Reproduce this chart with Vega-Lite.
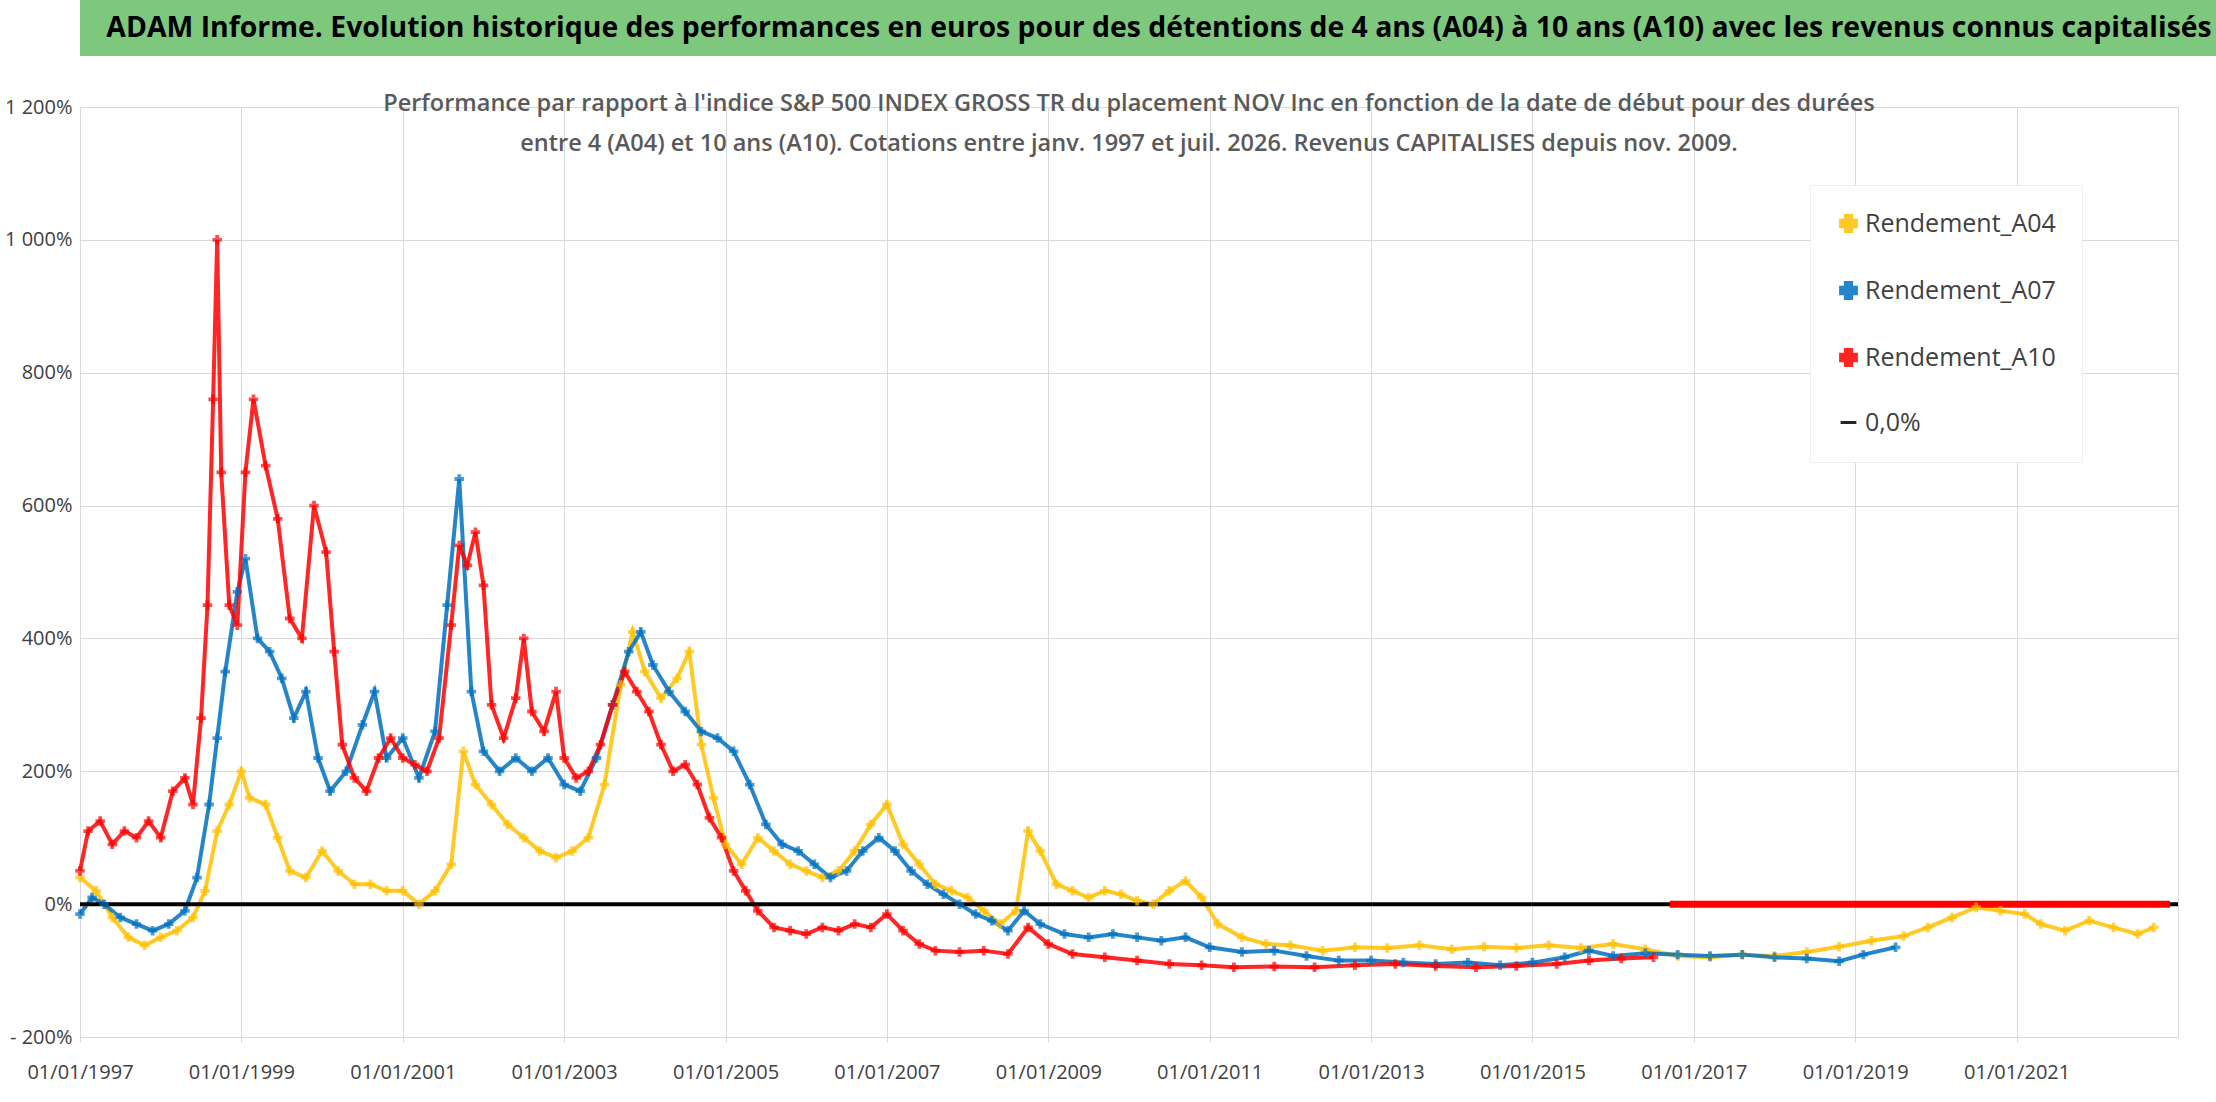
{
  "$schema": "https://vega.github.io/schema/vega-lite/v6.json",
  "padding": {"left": 4, "top": 0, "right": 4, "bottom": 2},
  "background": "white",
  "spacing": 35,
  "align": "none",
  "config": {"font": "Liberation Sans", "concat": {"spacing": 35}},
  "datasets": {
    "pts": [
      {"t":1997.0,"s":"Rendement_A04","v":40},{"t":1997.2,"s":"Rendement_A04","v":20},{"t":1997.4,"s":"Rendement_A04","v":-20},{"t":1997.6,"s":"Rendement_A04","v":-50},{"t":1997.8,"s":"Rendement_A04","v":-62},{"t":1998.0,"s":"Rendement_A04","v":-50},{"t":1998.2,"s":"Rendement_A04","v":-40},{"t":1998.4,"s":"Rendement_A04","v":-20},{"t":1998.55,"s":"Rendement_A04","v":20},{"t":1998.7,"s":"Rendement_A04","v":110},{"t":1998.85,"s":"Rendement_A04","v":150},{"t":1999.0,"s":"Rendement_A04","v":200},{"t":1999.1,"s":"Rendement_A04","v":160},{"t":1999.3,"s":"Rendement_A04","v":150},{"t":1999.45,"s":"Rendement_A04","v":100},{"t":1999.6,"s":"Rendement_A04","v":50},{"t":1999.8,"s":"Rendement_A04","v":40},{"t":2000.0,"s":"Rendement_A04","v":80},{"t":2000.2,"s":"Rendement_A04","v":50},{"t":2000.4,"s":"Rendement_A04","v":30},{"t":2000.6,"s":"Rendement_A04","v":30},{"t":2000.8,"s":"Rendement_A04","v":20},{"t":2001.0,"s":"Rendement_A04","v":20},{"t":2001.2,"s":"Rendement_A04","v":0},{"t":2001.4,"s":"Rendement_A04","v":20},{"t":2001.6,"s":"Rendement_A04","v":60},{"t":2001.75,"s":"Rendement_A04","v":230},{"t":2001.9,"s":"Rendement_A04","v":180},{"t":2002.1,"s":"Rendement_A04","v":150},{"t":2002.3,"s":"Rendement_A04","v":120},{"t":2002.5,"s":"Rendement_A04","v":100},{"t":2002.7,"s":"Rendement_A04","v":80},{"t":2002.9,"s":"Rendement_A04","v":70},{"t":2003.1,"s":"Rendement_A04","v":80},{"t":2003.3,"s":"Rendement_A04","v":100},{"t":2003.5,"s":"Rendement_A04","v":180},{"t":2003.7,"s":"Rendement_A04","v":330},{"t":2003.85,"s":"Rendement_A04","v":410},{"t":2004.0,"s":"Rendement_A04","v":350},{"t":2004.2,"s":"Rendement_A04","v":310},{"t":2004.4,"s":"Rendement_A04","v":340},{"t":2004.55,"s":"Rendement_A04","v":380},{"t":2004.7,"s":"Rendement_A04","v":240},{"t":2004.85,"s":"Rendement_A04","v":160},{"t":2005.0,"s":"Rendement_A04","v":90},{"t":2005.2,"s":"Rendement_A04","v":60},{"t":2005.4,"s":"Rendement_A04","v":100},{"t":2005.6,"s":"Rendement_A04","v":80},{"t":2005.8,"s":"Rendement_A04","v":60},{"t":2006.0,"s":"Rendement_A04","v":50},{"t":2006.2,"s":"Rendement_A04","v":40},{"t":2006.4,"s":"Rendement_A04","v":50},{"t":2006.6,"s":"Rendement_A04","v":80},{"t":2006.8,"s":"Rendement_A04","v":120},{"t":2007.0,"s":"Rendement_A04","v":150},{"t":2007.2,"s":"Rendement_A04","v":90},{"t":2007.4,"s":"Rendement_A04","v":60},{"t":2007.6,"s":"Rendement_A04","v":30},{"t":2007.8,"s":"Rendement_A04","v":20},{"t":2008.0,"s":"Rendement_A04","v":10},{"t":2008.2,"s":"Rendement_A04","v":-10},{"t":2008.4,"s":"Rendement_A04","v":-30},{"t":2008.6,"s":"Rendement_A04","v":-10},{"t":2008.75,"s":"Rendement_A04","v":110},{"t":2008.9,"s":"Rendement_A04","v":80},{"t":2009.1,"s":"Rendement_A04","v":30},{"t":2009.3,"s":"Rendement_A04","v":20},{"t":2009.5,"s":"Rendement_A04","v":10},{"t":2009.7,"s":"Rendement_A04","v":20},{"t":2009.9,"s":"Rendement_A04","v":15},{"t":2010.1,"s":"Rendement_A04","v":5},{"t":2010.3,"s":"Rendement_A04","v":0},{"t":2010.5,"s":"Rendement_A04","v":20},{"t":2010.7,"s":"Rendement_A04","v":35},{"t":2010.9,"s":"Rendement_A04","v":10},{"t":2011.1,"s":"Rendement_A04","v":-30},{"t":2011.4,"s":"Rendement_A04","v":-50},{"t":2011.7,"s":"Rendement_A04","v":-60},{"t":2012.0,"s":"Rendement_A04","v":-62},{"t":2012.4,"s":"Rendement_A04","v":-70},{"t":2012.8,"s":"Rendement_A04","v":-65},{"t":2013.2,"s":"Rendement_A04","v":-66},{"t":2013.6,"s":"Rendement_A04","v":-62},{"t":2014.0,"s":"Rendement_A04","v":-68},{"t":2014.4,"s":"Rendement_A04","v":-64},{"t":2014.8,"s":"Rendement_A04","v":-66},{"t":2015.2,"s":"Rendement_A04","v":-62},{"t":2015.6,"s":"Rendement_A04","v":-66},{"t":2016.0,"s":"Rendement_A04","v":-60},{"t":2016.4,"s":"Rendement_A04","v":-68},{"t":2016.8,"s":"Rendement_A04","v":-78},{"t":2017.2,"s":"Rendement_A04","v":-80},{"t":2017.6,"s":"Rendement_A04","v":-76},{"t":2018.0,"s":"Rendement_A04","v":-78},{"t":2018.4,"s":"Rendement_A04","v":-72},{"t":2018.8,"s":"Rendement_A04","v":-64},{"t":2019.2,"s":"Rendement_A04","v":-55},{"t":2019.6,"s":"Rendement_A04","v":-48},{"t":2019.9,"s":"Rendement_A04","v":-35},{"t":2020.2,"s":"Rendement_A04","v":-20},{"t":2020.5,"s":"Rendement_A04","v":-5},{"t":2020.8,"s":"Rendement_A04","v":-10},{"t":2021.1,"s":"Rendement_A04","v":-15},{"t":2021.3,"s":"Rendement_A04","v":-30},{"t":2021.6,"s":"Rendement_A04","v":-40},{"t":2021.9,"s":"Rendement_A04","v":-25},{"t":2022.2,"s":"Rendement_A04","v":-35},{"t":2022.5,"s":"Rendement_A04","v":-45},{"t":2022.7,"s":"Rendement_A04","v":-35},

      {"t":1997.0,"s":"Rendement_A07","v":-15},{"t":1997.15,"s":"Rendement_A07","v":10},{"t":1997.3,"s":"Rendement_A07","v":0},{"t":1997.5,"s":"Rendement_A07","v":-20},{"t":1997.7,"s":"Rendement_A07","v":-30},{"t":1997.9,"s":"Rendement_A07","v":-40},{"t":1998.1,"s":"Rendement_A07","v":-30},{"t":1998.3,"s":"Rendement_A07","v":-10},{"t":1998.45,"s":"Rendement_A07","v":40},{"t":1998.6,"s":"Rendement_A07","v":150},{"t":1998.7,"s":"Rendement_A07","v":250},{"t":1998.8,"s":"Rendement_A07","v":350},{"t":1998.95,"s":"Rendement_A07","v":470},{"t":1999.05,"s":"Rendement_A07","v":520},{"t":1999.2,"s":"Rendement_A07","v":400},{"t":1999.35,"s":"Rendement_A07","v":380},{"t":1999.5,"s":"Rendement_A07","v":340},{"t":1999.65,"s":"Rendement_A07","v":280},{"t":1999.8,"s":"Rendement_A07","v":320},{"t":1999.95,"s":"Rendement_A07","v":220},{"t":2000.1,"s":"Rendement_A07","v":170},{"t":2000.3,"s":"Rendement_A07","v":200},{"t":2000.5,"s":"Rendement_A07","v":270},{"t":2000.65,"s":"Rendement_A07","v":320},{"t":2000.8,"s":"Rendement_A07","v":220},{"t":2001.0,"s":"Rendement_A07","v":250},{"t":2001.2,"s":"Rendement_A07","v":190},{"t":2001.4,"s":"Rendement_A07","v":260},{"t":2001.55,"s":"Rendement_A07","v":450},{"t":2001.7,"s":"Rendement_A07","v":640},{"t":2001.85,"s":"Rendement_A07","v":320},{"t":2002.0,"s":"Rendement_A07","v":230},{"t":2002.2,"s":"Rendement_A07","v":200},{"t":2002.4,"s":"Rendement_A07","v":220},{"t":2002.6,"s":"Rendement_A07","v":200},{"t":2002.8,"s":"Rendement_A07","v":220},{"t":2003.0,"s":"Rendement_A07","v":180},{"t":2003.2,"s":"Rendement_A07","v":170},{"t":2003.4,"s":"Rendement_A07","v":220},{"t":2003.6,"s":"Rendement_A07","v":300},{"t":2003.8,"s":"Rendement_A07","v":380},{"t":2003.95,"s":"Rendement_A07","v":410},{"t":2004.1,"s":"Rendement_A07","v":360},{"t":2004.3,"s":"Rendement_A07","v":320},{"t":2004.5,"s":"Rendement_A07","v":290},{"t":2004.7,"s":"Rendement_A07","v":260},{"t":2004.9,"s":"Rendement_A07","v":250},{"t":2005.1,"s":"Rendement_A07","v":230},{"t":2005.3,"s":"Rendement_A07","v":180},{"t":2005.5,"s":"Rendement_A07","v":120},{"t":2005.7,"s":"Rendement_A07","v":90},{"t":2005.9,"s":"Rendement_A07","v":80},{"t":2006.1,"s":"Rendement_A07","v":60},{"t":2006.3,"s":"Rendement_A07","v":40},{"t":2006.5,"s":"Rendement_A07","v":50},{"t":2006.7,"s":"Rendement_A07","v":80},{"t":2006.9,"s":"Rendement_A07","v":100},{"t":2007.1,"s":"Rendement_A07","v":80},{"t":2007.3,"s":"Rendement_A07","v":50},{"t":2007.5,"s":"Rendement_A07","v":30},{"t":2007.7,"s":"Rendement_A07","v":15},{"t":2007.9,"s":"Rendement_A07","v":0},{"t":2008.1,"s":"Rendement_A07","v":-15},{"t":2008.3,"s":"Rendement_A07","v":-25},{"t":2008.5,"s":"Rendement_A07","v":-40},{"t":2008.7,"s":"Rendement_A07","v":-10},{"t":2008.9,"s":"Rendement_A07","v":-30},{"t":2009.2,"s":"Rendement_A07","v":-45},{"t":2009.5,"s":"Rendement_A07","v":-50},{"t":2009.8,"s":"Rendement_A07","v":-45},{"t":2010.1,"s":"Rendement_A07","v":-50},{"t":2010.4,"s":"Rendement_A07","v":-55},{"t":2010.7,"s":"Rendement_A07","v":-50},{"t":2011.0,"s":"Rendement_A07","v":-65},{"t":2011.4,"s":"Rendement_A07","v":-72},{"t":2011.8,"s":"Rendement_A07","v":-70},{"t":2012.2,"s":"Rendement_A07","v":-78},{"t":2012.6,"s":"Rendement_A07","v":-85},{"t":2013.0,"s":"Rendement_A07","v":-85},{"t":2013.4,"s":"Rendement_A07","v":-88},{"t":2013.8,"s":"Rendement_A07","v":-90},{"t":2014.2,"s":"Rendement_A07","v":-88},{"t":2014.6,"s":"Rendement_A07","v":-92},{"t":2015.0,"s":"Rendement_A07","v":-88},{"t":2015.4,"s":"Rendement_A07","v":-80},{"t":2015.7,"s":"Rendement_A07","v":-70},{"t":2016.0,"s":"Rendement_A07","v":-78},{"t":2016.4,"s":"Rendement_A07","v":-74},{"t":2016.8,"s":"Rendement_A07","v":-76},{"t":2017.2,"s":"Rendement_A07","v":-78},{"t":2017.6,"s":"Rendement_A07","v":-76},{"t":2018.0,"s":"Rendement_A07","v":-80},{"t":2018.4,"s":"Rendement_A07","v":-82},{"t":2018.8,"s":"Rendement_A07","v":-86},{"t":2019.1,"s":"Rendement_A07","v":-76},{"t":2019.5,"s":"Rendement_A07","v":-65},

      {"t":1997.0,"s":"Rendement_A10","v":50},{"t":1997.1,"s":"Rendement_A10","v":110},{"t":1997.25,"s":"Rendement_A10","v":125},{"t":1997.4,"s":"Rendement_A10","v":90},{"t":1997.55,"s":"Rendement_A10","v":110},{"t":1997.7,"s":"Rendement_A10","v":100},{"t":1997.85,"s":"Rendement_A10","v":125},{"t":1998.0,"s":"Rendement_A10","v":100},{"t":1998.15,"s":"Rendement_A10","v":170},{"t":1998.3,"s":"Rendement_A10","v":190},{"t":1998.4,"s":"Rendement_A10","v":150},{"t":1998.5,"s":"Rendement_A10","v":280},{"t":1998.58,"s":"Rendement_A10","v":450},{"t":1998.65,"s":"Rendement_A10","v":760},{"t":1998.7,"s":"Rendement_A10","v":1000},{"t":1998.75,"s":"Rendement_A10","v":650},{"t":1998.85,"s":"Rendement_A10","v":450},{"t":1998.95,"s":"Rendement_A10","v":420},{"t":1999.05,"s":"Rendement_A10","v":650},{"t":1999.15,"s":"Rendement_A10","v":760},{"t":1999.3,"s":"Rendement_A10","v":660},{"t":1999.45,"s":"Rendement_A10","v":580},{"t":1999.6,"s":"Rendement_A10","v":430},{"t":1999.75,"s":"Rendement_A10","v":400},{"t":1999.9,"s":"Rendement_A10","v":600},{"t":2000.05,"s":"Rendement_A10","v":530},{"t":2000.15,"s":"Rendement_A10","v":380},{"t":2000.25,"s":"Rendement_A10","v":240},{"t":2000.4,"s":"Rendement_A10","v":190},{"t":2000.55,"s":"Rendement_A10","v":170},{"t":2000.7,"s":"Rendement_A10","v":220},{"t":2000.85,"s":"Rendement_A10","v":250},{"t":2001.0,"s":"Rendement_A10","v":220},{"t":2001.15,"s":"Rendement_A10","v":210},{"t":2001.3,"s":"Rendement_A10","v":200},{"t":2001.45,"s":"Rendement_A10","v":250},{"t":2001.6,"s":"Rendement_A10","v":420},{"t":2001.7,"s":"Rendement_A10","v":540},{"t":2001.8,"s":"Rendement_A10","v":510},{"t":2001.9,"s":"Rendement_A10","v":560},{"t":2002.0,"s":"Rendement_A10","v":480},{"t":2002.1,"s":"Rendement_A10","v":300},{"t":2002.25,"s":"Rendement_A10","v":250},{"t":2002.4,"s":"Rendement_A10","v":310},{"t":2002.5,"s":"Rendement_A10","v":400},{"t":2002.6,"s":"Rendement_A10","v":290},{"t":2002.75,"s":"Rendement_A10","v":260},{"t":2002.9,"s":"Rendement_A10","v":320},{"t":2003.0,"s":"Rendement_A10","v":220},{"t":2003.15,"s":"Rendement_A10","v":190},{"t":2003.3,"s":"Rendement_A10","v":200},{"t":2003.45,"s":"Rendement_A10","v":240},{"t":2003.6,"s":"Rendement_A10","v":300},{"t":2003.75,"s":"Rendement_A10","v":350},{"t":2003.9,"s":"Rendement_A10","v":320},{"t":2004.05,"s":"Rendement_A10","v":290},{"t":2004.2,"s":"Rendement_A10","v":240},{"t":2004.35,"s":"Rendement_A10","v":200},{"t":2004.5,"s":"Rendement_A10","v":210},{"t":2004.65,"s":"Rendement_A10","v":180},{"t":2004.8,"s":"Rendement_A10","v":130},{"t":2004.95,"s":"Rendement_A10","v":100},{"t":2005.1,"s":"Rendement_A10","v":50},{"t":2005.25,"s":"Rendement_A10","v":20},{"t":2005.4,"s":"Rendement_A10","v":-10},{"t":2005.6,"s":"Rendement_A10","v":-35},{"t":2005.8,"s":"Rendement_A10","v":-40},{"t":2006.0,"s":"Rendement_A10","v":-45},{"t":2006.2,"s":"Rendement_A10","v":-35},{"t":2006.4,"s":"Rendement_A10","v":-40},{"t":2006.6,"s":"Rendement_A10","v":-30},{"t":2006.8,"s":"Rendement_A10","v":-35},{"t":2007.0,"s":"Rendement_A10","v":-15},{"t":2007.2,"s":"Rendement_A10","v":-40},{"t":2007.4,"s":"Rendement_A10","v":-60},{"t":2007.6,"s":"Rendement_A10","v":-70},{"t":2007.9,"s":"Rendement_A10","v":-72},{"t":2008.2,"s":"Rendement_A10","v":-70},{"t":2008.5,"s":"Rendement_A10","v":-75},{"t":2008.75,"s":"Rendement_A10","v":-35},{"t":2009.0,"s":"Rendement_A10","v":-60},{"t":2009.3,"s":"Rendement_A10","v":-75},{"t":2009.7,"s":"Rendement_A10","v":-80},{"t":2010.1,"s":"Rendement_A10","v":-85},{"t":2010.5,"s":"Rendement_A10","v":-90},{"t":2010.9,"s":"Rendement_A10","v":-92},{"t":2011.3,"s":"Rendement_A10","v":-95},{"t":2011.8,"s":"Rendement_A10","v":-94},{"t":2012.3,"s":"Rendement_A10","v":-95},{"t":2012.8,"s":"Rendement_A10","v":-92},{"t":2013.3,"s":"Rendement_A10","v":-90},{"t":2013.8,"s":"Rendement_A10","v":-93},{"t":2014.3,"s":"Rendement_A10","v":-95},{"t":2014.8,"s":"Rendement_A10","v":-93},{"t":2015.3,"s":"Rendement_A10","v":-90},{"t":2015.7,"s":"Rendement_A10","v":-85},{"t":2016.1,"s":"Rendement_A10","v":-82},{"t":2016.5,"s":"Rendement_A10","v":-80}
    ],
    "zero": [
      {"t":2016.7,"s":"Rendement_A10","v":0},{"t":2017.0,"s":"Rendement_A10","v":0},{"t":2017.5,"s":"Rendement_A10","v":0},{"t":2018.0,"s":"Rendement_A10","v":0},{"t":2018.5,"s":"Rendement_A10","v":0},{"t":2019.0,"s":"Rendement_A10","v":0},{"t":2019.5,"s":"Rendement_A10","v":0},{"t":2020.0,"s":"Rendement_A10","v":0},{"t":2020.5,"s":"Rendement_A10","v":0},{"t":2021.0,"s":"Rendement_A10","v":0},{"t":2021.5,"s":"Rendement_A10","v":0},{"t":2022.0,"s":"Rendement_A10","v":0},{"t":2022.5,"s":"Rendement_A10","v":0},{"t":2022.9,"s":"Rendement_A10","v":0}
    ]
  },
  "vconcat": [
    {
      "width": 2206,
      "height": 56,
      "view": {"fill": "#7ec87e", "stroke": null},
      "data": {"values": [{"txt": "ADAM Informe. Evolution historique des performances en euros pour des détentions de 4 ans (A04) à 10 ans (A10) avec les revenus connus capitalisés"}]},
      "mark": {"type": "text", "font": "Open Sans", "fontWeight": "bold", "fontSize": 28.4, "color": "black", "dx": -24},
      "encoding": {"text": {"field": "txt"}}
    },
    {
      "width": 2098,
      "height": 930,
      "title": {
        "text": ["Performance par rapport à l'indice S&P 500 INDEX GROSS TR  du placement NOV Inc en fonction de la date de début pour des durées", "entre 4 (A04) et 10 ans (A10). Cotations entre janv. 1997 et juil. 2026. Revenus CAPITALISES depuis nov. 2009."],
        "font": "Open Sans",
        "fontSize": 23.5,
        "fontWeight": 600,
        "color": "#595959",
        "lineHeight": 40,
        "anchor": "middle",
        "offset": -58
      },
      "view": {"stroke": "#d9d9d9"},
      "layer": [
        {
          "data": {"name": "pts"},
          "mark": {"type": "line", "strokeWidth": 4, "opacity": 0.85},
          "encoding": {
            "x": {"field": "t", "type": "quantitative"},
            "y": {"field": "v", "type": "quantitative"},
            "detail": {"field": "s"},
            "color": {"field": "s", "type": "nominal"}
          }
        },
        {
          "data": {"values": [{"s": "0,0%", "v": 0}]},
          "mark": {"type": "rule", "strokeWidth": 4},
          "encoding": {
            "y": {"field": "v", "type": "quantitative"},
            "color": {"field": "s", "type": "nominal"}
          }
        },
        {
          "data": {"name": "zero"},
          "mark": {"type": "line", "strokeWidth": 7},
          "encoding": {
            "x": {"field": "t", "type": "quantitative"},
            "y": {"field": "v", "type": "quantitative"},
            "color": {"field": "s", "type": "nominal"}
          }
        },
        {
          "data": {"name": "pts"},
          "mark": {"type": "point", "shape": "cross", "filled": true, "size": 90},
          "encoding": {
            "x": {
              "field": "t", "type": "quantitative",
              "scale": {"domain": [1997, 2023], "nice": false},
              "axis": {"values": [1997,1999,2001,2003,2005,2007,2009,2011,2013,2015,2017,2019,2021], "labelExpr": "'01/01/' + datum.value", "title": null, "labelFontSize": 20, "labelColor": "#404040", "gridColor": "#d9d9d9", "domainColor": "#d9d9d9", "tickColor": "#d9d9d9", "labelFont": "Open Sans", "labelPadding": 20, "labelFlush": false, "labelOverlap": false}
            },
            "y": {
              "field": "v", "type": "quantitative",
              "scale": {"domain": [-200, 1200], "nice": false},
              "axis": {"values": [-200,0,200,400,600,800,1000,1200], "labelExpr": "datum.value < 0 ? '- ' + (-datum.value) + '%' : replace(format(datum.value, ',d'), ',', ' ') + '%'", "title": null, "labelFontSize": 20, "labelColor": "#404040", "gridColor": "#d9d9d9", "domain": false, "ticks": false, "labelFont": "Open Sans", "labelPadding": 8}
            },
            "color": {
              "field": "s", "type": "nominal",
              "scale": {"domain": ["Rendement_A04", "Rendement_A07", "Rendement_A10", "0,0%"], "range": ["#FFC000", "#0070C0", "#FF0000", "#000000"]},
              "legend": {
                "title": null, "orient": "none", "legendX": 1730, "legendY": 185,
                "labelFontSize": 25, "labelFont": "Open Sans", "labelColor": "#404040", "labelLimit": 400,
                "symbolSize": 250, "rowPadding": 38, "padding": 26,
                "fillColor": "white", "strokeColor": "#eeeeee",
                "symbolStrokeWidth": 3
              }
            },
            "shape": {
              "field": "s", "type": "nominal",
              "scale": {"domain": ["Rendement_A04", "Rendement_A07", "Rendement_A10", "0,0%"], "range": ["cross", "cross", "cross", "stroke"]},
              "legend": null
            }
          }
        }
      ]
    }
  ]
}
